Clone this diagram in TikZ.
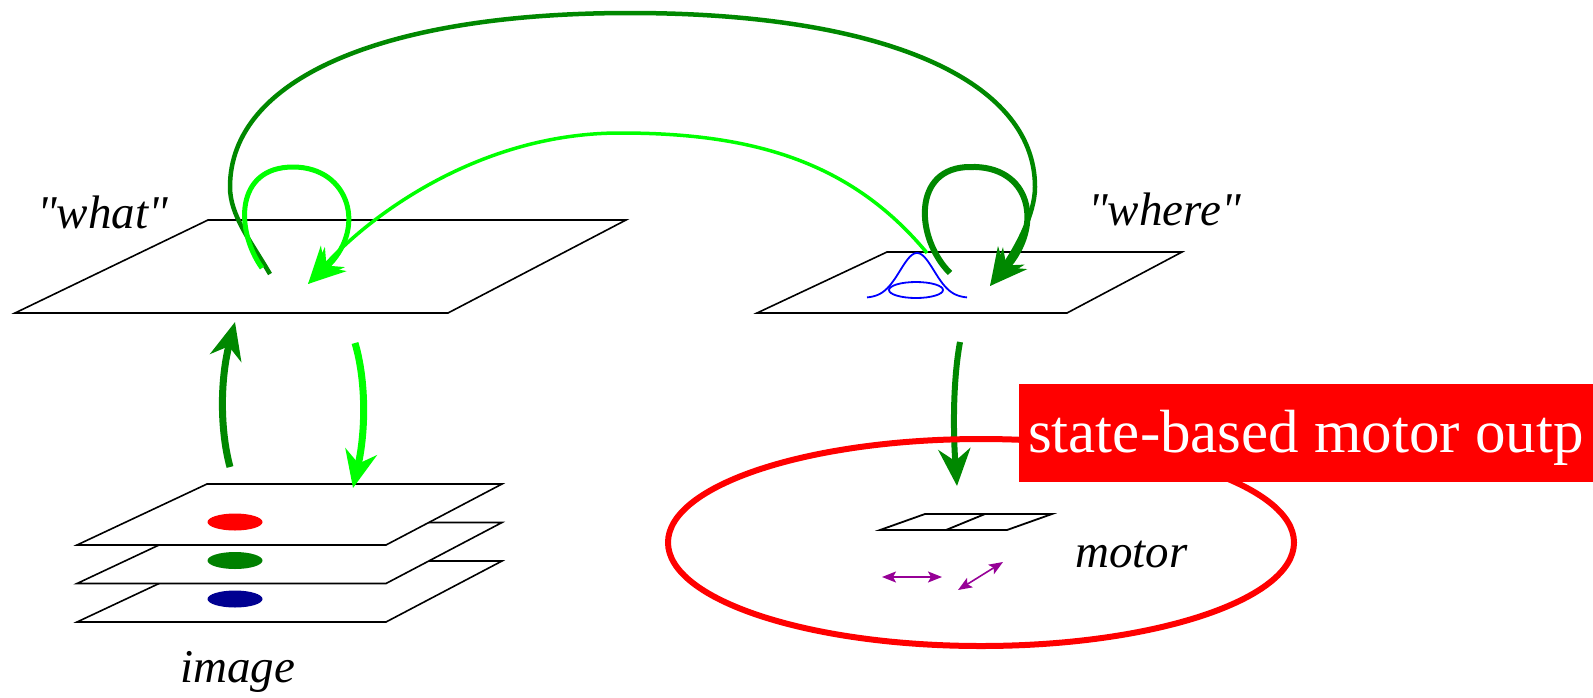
\documentclass[tikz,border=0pt]{standalone}
\usepackage{fontspec}
\setmainfont{Liberation Serif}
\usetikzlibrary{arrows.meta}
\definecolor{dkgreen}{RGB}{0,136,0}
\definecolor{ltgreen}{RGB}{0,255,0}
\definecolor{navyblue}{RGB}{0,0,145}
\definecolor{mypurple}{RGB}{150,0,150}
\tikzset{
  plane/.style={draw=black, line width=1.6pt, fill=white, line join=miter},
  bigtip/.style={-{Stealth[length=37pt,width=32pt,inset=12pt]}},
  smalltip/.style={{Stealth[length=14pt,width=11pt,inset=3pt]}-{Stealth[length=14pt,width=11pt,inset=3pt]}},
  lbl/.style={font=\fontsize{47}{56}\selectfont\itshape, inner sep=0pt, anchor=base west},
}
\begin{document}
\begin{tikzpicture}[x=1pt,y=-1pt]
\useasboundingbox (0,0) rectangle (1593,697);
\clip (0,0) rectangle (1593,697);

% ---------- "what" plane ----------
\draw[plane] (208,220) -- (626,220) -- (448,313) -- (15,313) -- cycle;
\node[lbl] (what) at (37,228) {\textquotedbl what\textquotedbl};

% ---------- "where" plane ----------
\draw[plane] (887,252) -- (1182,252) -- (1067,313) -- (757,313) -- cycle;
\node[lbl] (where) at (1088,225) {\textquotedbl where\textquotedbl};
% gaussian bump
\draw[blue, line width=1.8pt] plot[domain=-50:50, samples=80] ({917+\x}, {298-45*exp(-(\x/17)^2/2)});
\draw[blue, line width=1.8pt] (916,290) ellipse [x radius=27, y radius=8];

% ---------- image stack ----------
\foreach \k in {2,1,0}{
  \draw[plane] (207,{484+38.5*\k}) -- (502,{484+38.5*\k}) -- (386,{545+38.5*\k}) -- (77,{545+38.5*\k}) -- cycle;
}
\fill[red] (235,522) ellipse [x radius=27.5, y radius=8.5];
\fill[green!50!black] (235,560.5) ellipse [x radius=27.5, y radius=8.5];
\fill[navyblue] (235,599) ellipse [x radius=27.5, y radius=8.5];
\node[lbl] (image) at (180,682) {image};

% ---------- motor ----------
\draw[plane, line width=1.8pt] (925,514) -- (1052,514) -- (1007,530) -- (880,530) -- cycle;
\draw[line width=1.8pt] (985,514) -- (946,530);
\coordinate (m1a) at (882,577); \coordinate (m1b) at (942,577);
\coordinate (m2a) at (958,590); \coordinate (m2b) at (1003,562);
\draw[mypurple, line width=1.6pt, smalltip] (m1a) -- (m1b);
\draw[mypurple, line width=1.6pt, smalltip] (m2a) -- (m2b);
\node[lbl] (motor) at (1075,567) {motor};

% ---------- named ends ----------
\coordinate (whatOut) at (270,274);
\coordinate (whatIn) at (308,284);
\coordinate (whereOut) at (950,273);
\coordinate (whereIn) at (990,286);
\coordinate (whereFrom) at (927,253);
\coordinate (whatLoop) at (262,268);

% big dark arc: what -> where
\draw[dkgreen, line width=4.5pt, bigtip]
  (whatOut) .. controls (250,240) and (230,215) .. (230,187)
  .. controls (230,79) and (382,13) .. (630,13)
  .. controls (881,13) and (1035,79) .. (1035,187)
  .. controls (1035,215) and (1015,250) .. (whereIn);
% dark self loop on where
\draw[dkgreen, line width=6pt, bigtip]
  (whereOut) .. controls (915,238) and (912,167) .. (970,167)
  .. controls (1030,165) and (1045,225) .. (whereIn);

% light self loop on what
\draw[ltgreen, line width=5pt, bigtip]
  (whatLoop) .. controls (235,230) and (235,167) .. (293,167)
  .. controls (350,167) and (368,230) .. (whatIn);
% light big arc: where -> what
\draw[ltgreen, line width=3.5pt, bigtip]
  (whereFrom) .. controls (850,160) and (750,133) .. (620,133)
  .. controls (480,133) and (370,215) .. (whatIn);

% vertical arrows between image and what
\coordinate (imgUpFrom) at (230,467); \coordinate (whatUpTo) at (235,322);
\coordinate (whatDownFrom) at (355,343); \coordinate (imgDownTo) at (353,488);
\draw[dkgreen, line width=7pt, bigtip] (imgUpFrom) .. controls (220,430) and (220,380) .. (whatUpTo);
\draw[ltgreen, line width=7pt, bigtip] (whatDownFrom) .. controls (366,380) and (366,430) .. (imgDownTo);

% where -> motor
\coordinate (whereDown) at (960,342); \coordinate (motorIn) at (957,486);
\draw[dkgreen, line width=6pt, bigtip] (whereDown) .. controls (953,380) and (953,430) .. (motorIn);

% red ellipse and label
\draw[red, line width=6pt] (981,542.5) ellipse [x radius=313, y radius=103.5];
\fill[red] (1019,384) rectangle (1593,482);
\node[text=white, anchor=base west, inner sep=0pt,
      font=\fontsize{61}{70}\selectfont] (state) at (1028,452) {state-based motor outp};
\end{tikzpicture}
\end{document}
